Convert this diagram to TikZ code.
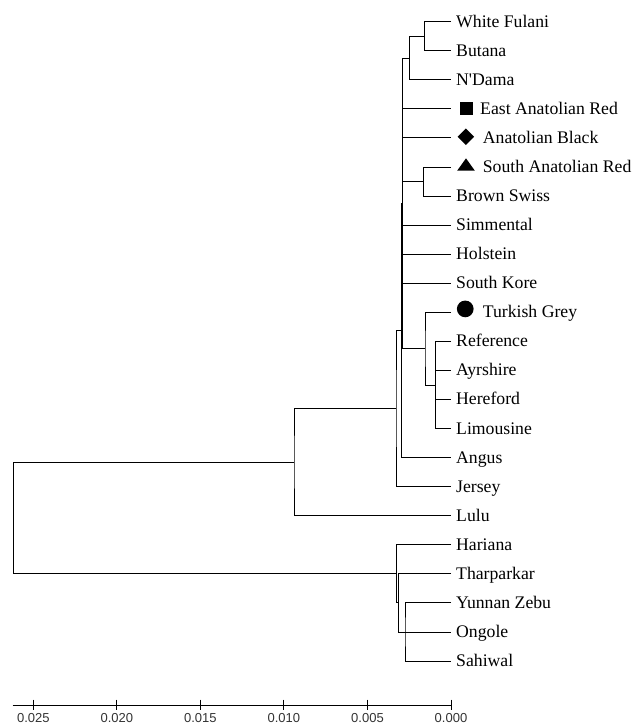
\documentclass[tikz,border=0pt]{standalone}
\usepackage{fontspec}
\setmainfont{Liberation Serif}
\newfontfamily\axisfont{Liberation Sans}
\usetikzlibrary{positioning,shapes.geometric}

\begin{document}
\begin{tikzpicture}[x=1pt, y=-1pt,
          branch/.style={draw=black, line width=0.9pt},
          leaf/.style={anchor=west, inner sep=0pt, text height=12pt, text depth=1pt,
            font=\fontsize{17.7}{20}\selectfont},
          marksquare/.style={rectangle, fill=black, inner sep=0pt, minimum size=12.5pt},
          markdiamond/.style={diamond, fill=black, inner sep=0pt, minimum width=16.7pt, minimum height=16.7pt},
          markcircle/.style={circle, fill=black, inner sep=0pt, minimum size=16.7pt},
          scalelabel/.style={anchor=base, inner sep=0pt, text=black!80,
            font=\axisfont\fontsize{13}{15}\selectfont}]

        \useasboundingbox (0,0) rectangle (632,724);

        % leaf tips
        \coordinate (wf)  at (451,21.70);
        \coordinate (bu)  at (451,50.76);
        \coordinate (nd)  at (451,79.82);
        \coordinate (ear) at (451,108.88);
        \coordinate (ab)  at (451,137.94);
        \coordinate (sar) at (451,167.00);
        \coordinate (bs)  at (451,196.06);
        \coordinate (si)  at (451,225.12);
        \coordinate (ho)  at (451,254.18);
        \coordinate (sk)  at (451,283.24);
        \coordinate (tg)  at (451,312.30);
        \coordinate (re)  at (451,341.36);
        \coordinate (ay)  at (451,370.42);
        \coordinate (he)  at (451,399.48);
        \coordinate (li)  at (451,428.54);
        \coordinate (an)  at (451,457.60);
        \coordinate (je)  at (451,486.66);
        \coordinate (lu)  at (451,515.72);
        \coordinate (ha)  at (451,544.78);
        \coordinate (th)  at (451,573.84);
        \coordinate (yz)  at (451,602.90);
        \coordinate (on)  at (451,631.96);
        \coordinate (sa)  at (451,661.02);

        \node[leaf, right=5pt of wf] (lwf) {White Fulani};
        \node[leaf, right=5pt of bu] (lbu) {Butana};
        \node[leaf, right=5pt of nd] (lnd) {N\textquotesingle Dama};
        \node[marksquare, right=9pt of ear, yshift=0.5pt] (mear) {};
        \node[leaf, right=29pt of ear] (lear) {East Anatolian Red};
        \node[markdiamond, right=6.3pt of ab, yshift=1.2pt] (mab) {};
        \node[leaf, right=31.7pt of ab] (lab) {Anatolian Black};
        \coordinate (msar) at (466,167);
        \fill (msar) ++(0,-8.7) -- ++(8.85,12.4) -- ++(-17.7,0) -- cycle;
        \node[leaf, right=31.7pt of sar] (lsar) {South Anatolian Red};
        \node[leaf, right=5pt of bs] (lbs) {Brown Swiss};
        \node[leaf, right=5pt of si] (lsi) {Simmental};
        \node[leaf, right=5pt of ho] (lho) {Holstein};
        \node[leaf, right=5pt of sk] (lsk) {South Kore};
        \node[markcircle, right=5.7pt of tg, yshift=3.4pt] (mtg) {};
        \node[leaf, right=31.7pt of tg] (ltg) {Turkish Grey};
        \node[leaf, right=5pt of re] (lre) {Reference};
        \node[leaf, right=5pt of ay] (lay) {Ayrshire};
        \node[leaf, right=5pt of he] (lhe) {Hereford};
        \node[leaf, right=5pt of li] (lli) {Limousine};
        \node[leaf, right=5pt of an] (lan) {Angus};
        \node[leaf, right=5pt of je] (lje) {Jersey};
        \node[leaf, right=5pt of lu] (llu) {Lulu};
        \node[leaf, right=5pt of ha] (lha) {Hariana};
        \node[leaf, right=5pt of th] (lth) {Tharparkar};
        \node[leaf, right=5pt of yz] (lyz) {Yunnan Zebu};
        \node[leaf, right=5pt of on] (lon) {Ongole};
        \node[leaf, right=5pt of sa] (lsa) {Sahiwal};

        % inner nodes
        \coordinate (n1)   at (424.3,36.23);
        \coordinate (n2)   at (409.3,58.00);
        \coordinate (n3)   at (423.3,181.53);
        \coordinate (n4)   at (435.3,384.95);
        \coordinate (n5)   at (425.0,348.63);
        \coordinate (n6)   at (402.5,203.31);
        \coordinate (n7)   at (401.3,330.45);
        \coordinate (n8)   at (396.0,408.56);
        \coordinate (n9)   at (294.0,462.14);
        \coordinate (n10)  at (405.0,631.96);
        \coordinate (n11)  at (398.3,602.90);
        \coordinate (n12)  at (396.7,573.84);
        \coordinate (root) at (13.3,517.99);

        \draw[branch] (wf) -| (n1) |- (bu);
        \draw[branch] (n1) -| (n2) |- (nd);
        \draw[branch] (sar) -| (n3) |- (bs);
        \draw[branch] (re) -| (n4) |- (li);
        \draw[branch] (n4) |- (ay);
        \draw[branch] (n4) |- (he);
        \draw[branch] (tg) -| (n5) |- (n4);

        \draw[branch] (n2) -| (n6) |- (n5);
        \draw[branch] (n6) |- (ear);
        \draw[branch] (n6) |- (ab);
        \draw[branch] (n6) |- (n3);
        \draw[branch] (n6) |- (si);
        \draw[branch] (n6) |- (ho);
        \draw[branch] (n6) |- (sk);

        \draw[branch] (n6) -| (n7) |- (an);
        \draw[branch] (n7) -| (n8) |- (je);
        \draw[branch] (n8) -| (n9) |- (lu);

        \draw[branch] (yz) -| (n10) |- (sa);
        \draw[branch] (th) -| (n11) |- (n10);
        \draw[branch] (n11) |- (on);
        \draw[branch] (ha) -| (n12) |- (n11);

        \draw[branch] (n9) -| (root) |- (n12);

        % scale
        \draw[branch] (12.7,705) -- (451,705);
        \draw[branch] (33.3,699.5) -- (33.3,710);
        \draw[branch] (116.8,699.5) -- (116.8,710);
        \draw[branch] (200.4,699.5) -- (200.4,710);
        \draw[branch] (283.9,699.5) -- (283.9,710);
        \draw[branch] (367.5,699.5) -- (367.5,710);
        \draw[branch] (451.0,699.5) -- (451.0,710);
        \node[scalelabel] (s25) at (33.3,722.3)  {0.025};
        \node[scalelabel] (s20) at (116.8,722.3) {0.020};
        \node[scalelabel] (s15) at (200.4,722.3) {0.015};
        \node[scalelabel] (s10) at (283.9,722.3) {0.010};
        \node[scalelabel] (s05) at (367.5,722.3) {0.005};
        \node[scalelabel] (s00) at (451.0,722.3) {0.000};

      \end{tikzpicture}
\end{document}
